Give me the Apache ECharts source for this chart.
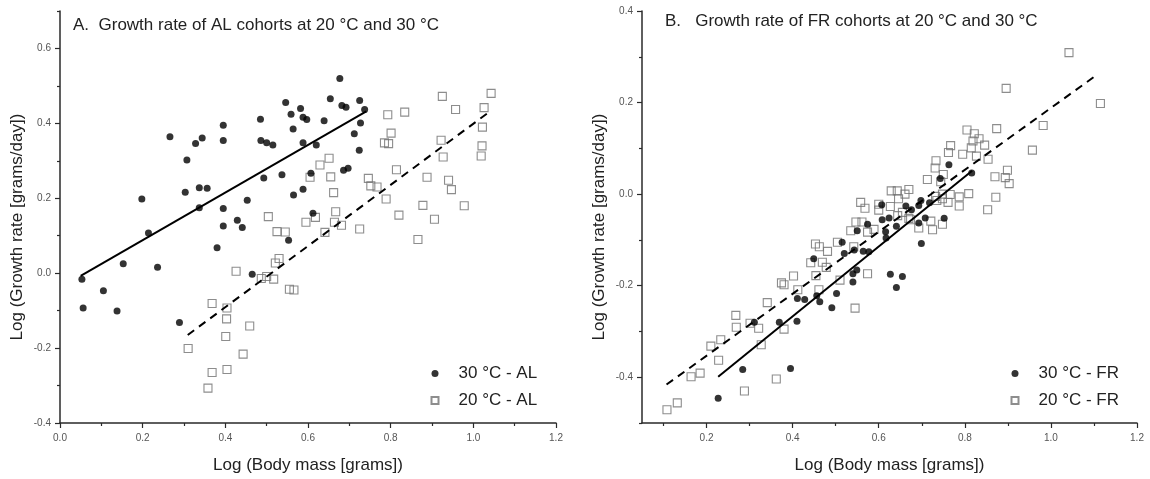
<!DOCTYPE html>
<html>
<head>
<meta charset="utf-8">
<script src="https://cdn.jsdelivr.net/npm/echarts@6/dist/echarts.min.js"></script>
<style>
html,body{margin:0;padding:0;background:#fff;}
#chart{width:1150px;height:479px;}
</style>
</head>
<body>
<div id="chart"></div>
<script>
// ---------- Panel A data (AL cohorts) ----------
const al30 = [
  [0.053,-0.016],[0.056,-0.093],[0.105,-0.047],[0.138,-0.101],[0.153,0.025],[0.214,0.107],
  [0.198,0.198],[0.236,0.016],[0.266,0.364],[0.289,-0.132],[0.307,0.302],[0.303,0.216],
  [0.328,0.346],[0.344,0.361],[0.337,0.228],[0.356,0.227],[0.337,0.175],[0.395,0.395],
  [0.395,0.354],[0.395,0.173],[0.395,0.126],[0.380,0.068],[0.429,0.141],[0.441,0.122],
  [0.453,0.195],[0.465,-0.003],[0.485,0.411],[0.486,0.354],[0.500,0.348],[0.515,0.342],
  [0.493,0.254],[0.537,0.263],[0.546,0.456],[0.559,0.424],[0.582,0.440],[0.564,0.385],
  [0.588,0.416],[0.597,0.410],[0.588,0.348],[0.565,0.209],[0.588,0.224],[0.553,0.088],
  [0.620,0.342],[0.639,0.407],[0.654,0.466],[0.677,0.520],[0.682,0.448],[0.692,0.443],
  [0.725,0.461],[0.737,0.437],[0.727,0.401],[0.712,0.372],[0.724,0.328],[0.686,0.275],
  [0.697,0.280],[0.607,0.267],[0.612,0.160]
];
const al20 = [
  [0.504,0.151],[0.525,0.111],[0.545,0.110],[0.595,0.136],[0.605,0.256],[0.530,0.039],
  [0.521,0.027],[0.426,0.005],[0.487,-0.014],[0.500,-0.009],[0.517,-0.016],[0.555,-0.043],
  [0.566,-0.045],[0.310,-0.201],[0.368,-0.081],[0.368,-0.265],[0.358,-0.307],[0.404,-0.093],
  [0.403,-0.122],[0.401,-0.169],[0.404,-0.257],[0.459,-0.141],[0.443,-0.216],[0.618,0.149],
  [0.629,0.289],[0.651,0.307],[0.655,0.257],[0.662,0.215],[0.667,0.164],[0.664,0.136],
  [0.681,0.128],[0.641,0.109],[0.725,0.118],[0.746,0.253],[0.752,0.233],[0.767,0.230],
  [0.789,0.198],[0.793,0.423],[0.834,0.430],[0.801,0.374],[0.785,0.348],[0.795,0.346],
  [0.814,0.276],[0.820,0.155],[0.888,0.256],[0.878,0.181],[0.906,0.144],[0.866,0.090],
  [0.925,0.472],[0.957,0.437],[0.922,0.355],[0.927,0.310],[0.940,0.248],[0.947,0.223],
  [0.978,0.180],[1.043,0.480],[1.026,0.442],[1.022,0.390],[1.021,0.340],[1.019,0.313]
];
const al30Fit = [[0.05,-0.007],[0.741,0.432]];
const al20Fit = [[0.309,-0.165],[1.044,0.435]];

// ---------- Panel B data (FR cohorts) ----------
const fr30 = [
  [0.227,-0.446],[0.284,-0.383],[0.311,-0.280],[0.369,-0.280],[0.410,-0.278],[0.395,-0.381],
  [0.411,-0.228],[0.428,-0.230],[0.449,-0.141],[0.456,-0.222],[0.463,-0.235],[0.491,-0.248],
  [0.502,-0.217],[0.515,-0.105],[0.520,-0.130],[0.543,-0.122],[0.540,-0.174],[0.540,-0.192],
  [0.549,-0.166],[0.550,-0.080],[0.564,-0.125],[0.577,-0.126],[0.574,-0.066],[0.608,-0.056],
  [0.624,-0.052],[0.616,-0.082],[0.617,-0.096],[0.641,-0.070],[0.607,-0.023],[0.663,-0.026],
  [0.627,-0.175],[0.655,-0.180],[0.641,-0.204],[0.763,0.064],[0.743,0.034],[0.816,0.046],
  [0.718,-0.019],[0.698,-0.014],[0.693,-0.025],[0.676,-0.034],[0.708,-0.052],[0.752,-0.053],
  [0.693,-0.063],[0.699,-0.108]
];
const fr20 = [
  [0.108,-0.471],[0.132,-0.456],[0.164,-0.399],[0.185,-0.391],[0.210,-0.332],[0.233,-0.318],
  [0.228,-0.363],[0.268,-0.265],[0.269,-0.291],[0.288,-0.430],[0.301,-0.282],[0.321,-0.293],
  [0.327,-0.329],[0.341,-0.237],[0.362,-0.404],[0.374,-0.194],[0.380,-0.198],[0.380,-0.295],
  [0.402,-0.179],[0.412,-0.209],[0.442,-0.150],[0.453,-0.109],[0.462,-0.115],[0.469,-0.149],
  [0.478,-0.160],[0.454,-0.178],[0.461,-0.209],[0.481,-0.125],[0.504,-0.105],[0.510,-0.188],
  [0.535,-0.080],[0.542,-0.115],[0.545,-0.249],[0.574,-0.083],[0.574,-0.174],[0.547,-0.061],
  [0.561,-0.061],[0.558,-0.018],[0.568,-0.031],[0.589,-0.077],[0.600,-0.022],[0.600,-0.035],
  [0.629,0.007],[0.643,0.007],[0.627,-0.027],[0.646,-0.010],[0.644,-0.047],[0.655,-0.040],
  [0.661,0.000],[0.670,0.010],[0.670,-0.053],[1.042,0.309],[0.896,0.231],[1.115,0.198],
  [0.982,0.150],[0.874,0.143],[0.957,0.096],[0.805,0.140],[0.822,0.132],[0.833,0.121],
  [0.819,0.116],[0.815,0.101],[0.846,0.107],[0.767,0.106],[0.762,0.091],[0.795,0.087],
  [0.827,0.083],[0.854,0.076],[0.733,0.073],[0.731,0.057],[0.713,0.032],[0.750,0.043],
  [0.744,0.027],[0.899,0.052],[0.894,0.036],[0.903,0.023],[0.870,0.038],[0.872,-0.007],
  [0.853,-0.034],[0.809,0.001],[0.787,-0.006],[0.787,-0.026],[0.766,-0.001],[0.761,-0.018],
  [0.748,0.000],[0.748,-0.010],[0.735,-0.014],[0.721,-0.059],[0.725,-0.078],[0.748,-0.066],
  [0.693,-0.074],[0.674,-0.056],[0.732,-0.005]
];
const fr30Fit = [[0.227,-0.399],[0.817,0.051]];
const fr20Fit = [[0.107,-0.416],[1.109,0.262]];

// ---------- Tick values ----------
const aXMajor = [0,0.2,0.4,0.6,0.8,1.0,1.2];
const aXMinor = [0.1,0.3,0.5,0.7,0.9,1.1];
const aYMajor = [-0.4,-0.2,0,0.2,0.4,0.6];
const aYMinor = [-0.3,-0.1,0.1,0.3,0.5,0.7];
const bXMajor = [0.2,0.4,0.6,0.8,1.0,1.2];
const bXMinor = [0.1,0.3,0.5,0.7,0.9,1.1];
const bYMajor = [-0.4,-0.2,0,0.2,0.4];
const bYMinor = [-0.5,-0.3,-0.1,0.1,0.3];

const titleA = 'A.  Growth rate of AL cohorts at 20 \u00B0C and 30 \u00B0C';
const titleB = 'B.   Growth rate of FR cohorts at 20 \u00B0C and 30 \u00B0C';
const xName = 'Log (Body mass [grams])';
const yName = 'Log (Growth rate [grams/day])';
const legA = ['30 \u00B0C - AL','20 \u00B0C - AL'];
const legB = ['30 \u00B0C - FR','20 \u00B0C - FR'];

const FONT = '"Liberation Sans", Arial, sans-serif';
const AXC = '#2a2a2a';
const fmt = v => Number(v).toFixed(1);

function majorAxis(grid, min, max, major, isX) {
  return {
    type: 'value', gridIndex: grid, min: min, max: max,
    position: isX ? 'bottom' : 'left',
    axisLine: {show: true, onZero: false, lineStyle: {color: AXC, width: 1.5}},
    axisTick: {show: true, customValues: major, length: 5, lineStyle: {color: AXC, width: 1.2}},
    axisLabel: {show: true, customValues: major, formatter: fmt, color: '#555', fontSize: 10,
                fontFamily: FONT, margin: isX ? 10 : 9},
    splitLine: {show: false},
    name: isX ? xName : yName,
    nameLocation: 'middle',
    nameGap: isX ? 34 : 34,
    nameTextStyle: isX ? {fontSize: 17, color: '#222', fontFamily: FONT}
                       : {fontSize: 17, color: '#222', fontFamily: FONT, padding: [0, 20, 0, 0]}
  };
}
function minorAxis(grid, min, max, minor, isX) {
  return {
    type: 'value', gridIndex: grid, min: min, max: max,
    position: isX ? 'bottom' : 'left',
    axisLine: {show: false, onZero: false},
    axisTick: {show: true, customValues: minor, length: 3, lineStyle: {color: AXC, width: 1.2}},
    axisLabel: {show: false},
    splitLine: {show: false}
  };
}

const dotStyle = {color: '#000'};
const sqStyle = {color: 'rgba(255,255,255,0)', borderColor: '#707070', borderWidth: 1.1};

function scatter(name, data, xi, yi, isDot) {
  return {
    type: 'scatter', name: name, data: data, xAxisIndex: xi, yAxisIndex: yi,
    symbol: isDot ? 'circle' : 'rect', symbolSize: isDot ? 7 : 8,
    itemStyle: isDot ? dotStyle : sqStyle, z: isDot ? 3 : 2, silent: true
  };
}
function fitLine(data, xi, yi, dashed) {
  return {
    type: 'line', data: data, xAxisIndex: xi, yAxisIndex: yi, symbol: 'none',
    lineStyle: {color: '#000', width: 2, type: dashed ? [8, 6] : 'solid'},
    z: 4, silent: true
  };
}
function legend(names, left) {
  return {
    data: names, orient: 'vertical', left: left, top: 360, itemWidth: 7, itemHeight: 7, itemGap: 10,
    textStyle: {fontSize: 17, color: '#222', fontFamily: FONT, padding: [0, 0, 0, 15]},
    selectedMode: false
  };
}

const chart = echarts.init(document.getElementById('chart'), null, {renderer: 'canvas'});
chart.setOption({
  animation: false,
  backgroundColor: '#fff',
  textStyle: {fontFamily: FONT},
  title: [
    {text: titleA, left: 68, top: 12, textStyle: {fontSize: 17, fontWeight: 'normal', color: '#222', fontFamily: FONT}},
    {text: titleB, left: 660, top: 8, textStyle: {fontSize: 17, fontWeight: 'normal', color: '#222', fontFamily: FONT}}
  ],
  grid: [
    {left: 60, top: 11, width: 496, height: 415, containLabel: false},
    {left: 642, top: 11, width: 495, height: 415, containLabel: false}
  ],
  legend: [legend(legA, 425.5), legend(legB, 1005.5)],
  xAxis: [
    majorAxis(0, 0, 1.2, aXMajor, true),
    minorAxis(0, 0, 1.2, aXMinor, true),
    majorAxis(1, 0.05, 1.2, bXMajor, true),
    minorAxis(1, 0.05, 1.2, bXMinor, true)
  ],
  yAxis: [
    majorAxis(0, -0.4, 0.7, aYMajor, false),
    minorAxis(0, -0.4, 0.7, aYMinor, false),
    majorAxis(1, -0.5, 0.4, bYMajor, false),
    minorAxis(1, -0.5, 0.4, bYMinor, false)
  ],
  series: [
    scatter(legA[1], al20, 0, 0, false),
    scatter(legA[0], al30, 0, 0, true),
    fitLine(al30Fit, 0, 0, false),
    fitLine(al20Fit, 0, 0, true),
    scatter(legB[1], fr20, 2, 2, false),
    scatter(legB[0], fr30, 2, 2, true),
    fitLine(fr30Fit, 2, 2, false),
    fitLine(fr20Fit, 2, 2, true)
  ]
});
</script>
</body>
</html>
